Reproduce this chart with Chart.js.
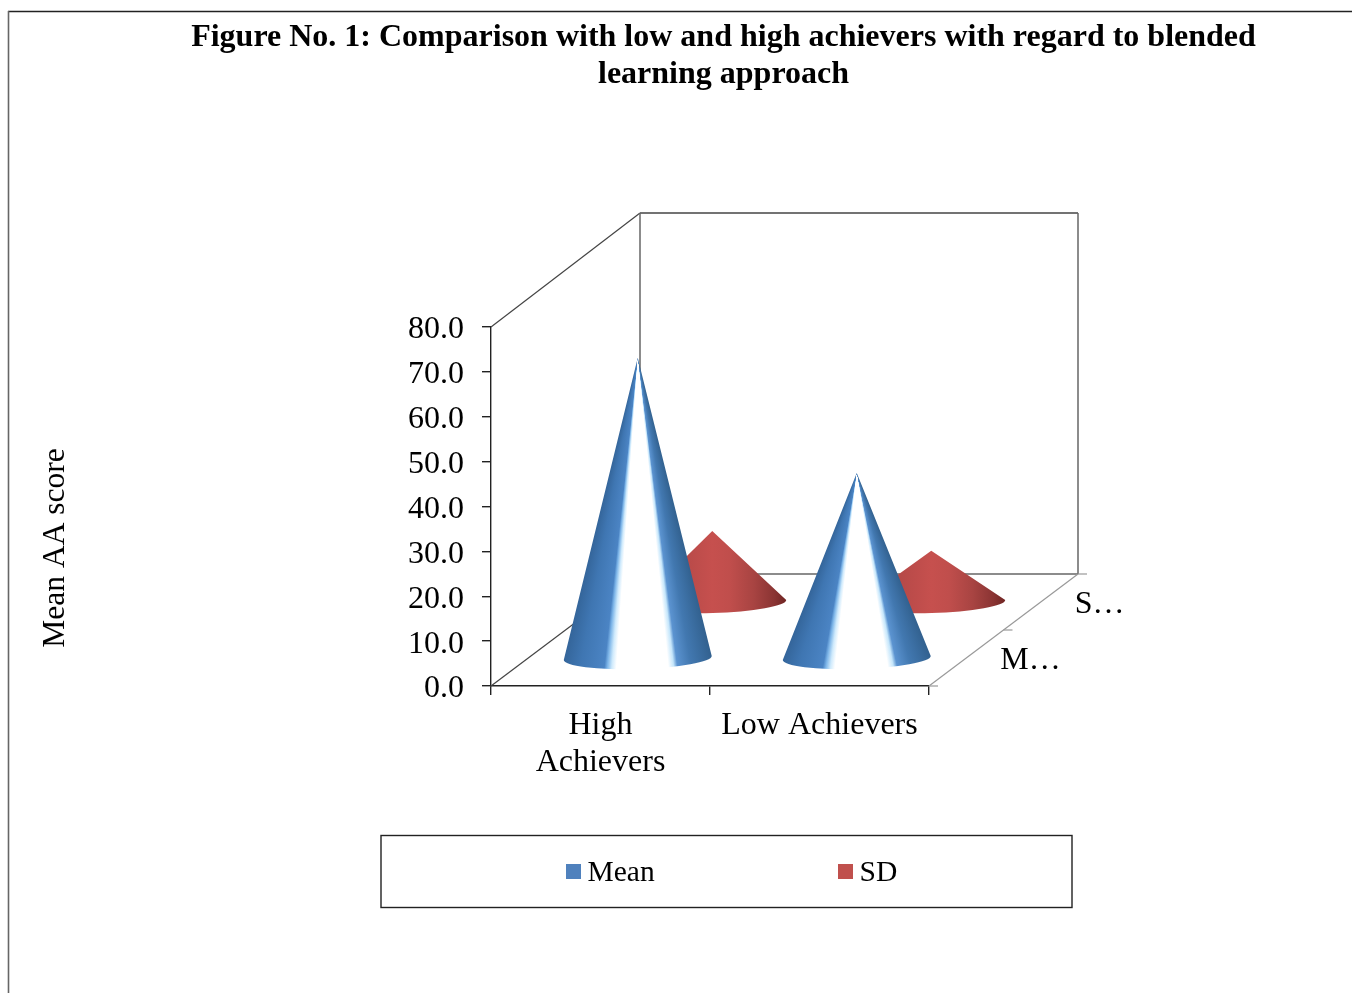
<!DOCTYPE html>
<html>
<head>
<meta charset="utf-8">
<title>Comparison with low and high achievers</title>
<script src="https://cdn.jsdelivr.net/npm/chart.js@4/dist/chart.umd.min.js"></script>
<style>
    html, body { margin: 0; padding: 0; background: #fff; overflow: hidden; }
    canvas { display: block; }
</style>
</head>
<body>
<canvas id="coneChart" width="1352" height="993"></canvas>
<script>
const titleLines = ['Figure No. 1: Comparison with low and high achievers with regard to blended', 'learning approach'];
const categories = [['High', 'Achievers'], 'Low Achievers'];
const seriesNames = ['Mean', 'SD'];
const meanValues = [66.9, 41.2];
const sdValues = [15.8, 11.4];
const depthLabels = ['M…', 'S…'];
const yAxisLabel = 'Mean AA score';

const SERIF = '"Liberation Serif", "Times New Roman", serif';
const COLORS = { Mean: '#4f81bd', SD: '#c0504d' };

// Floor depth as seen on screen, from front edge to back wall
const DEPTH_X = 149;
const DEPTH_Y = -112;
const CONE_RX = 74;
const CONE_RY = 11;
const CONE_TILT = -0.027;

// Shading across the base of a cone, left to right
const blueBands = [
    [0, '#34659a'], [0.12, '#3f76b2'], [0.28, '#4b84c4'], [0.3, '#7db5e8'], [0.33, '#cfeafc'], [0.36, '#ffffff'],
    [0.7, '#ffffff'], [0.735, '#c5e6fb'], [0.76, '#5b93d0'], [0.85, '#4278b0'], [1, '#32618f']
];
const redBands = [
    [0, '#a04040'], [0.5, '#c6504e'], [0.62, '#c04e4c'], [0.78, '#a84442'], [0.92, '#8a3433'], [1, '#702523']
];

function line(ctx, x1, y1, x2, y2, color, width) {
    ctx.strokeStyle = color;
    ctx.lineWidth = width;
    ctx.beginPath();
    ctx.moveTo(x1, y1);
    ctx.lineTo(x2, y2);
    ctx.stroke();
}

function drawWalls(chart) {
    const { ctx, chartArea: a } = chart;
    const backL = a.left + DEPTH_X;
    const backR = a.right + DEPTH_X;
    const backB = a.bottom + DEPTH_Y;
    const backT = a.top + DEPTH_Y - 2;

    line(ctx, a.left, a.top, backL, backT, '#444', 1.2);
    line(ctx, backL, backT, backR, backT, '#444', 1.5);
    line(ctx, backL, backT, backL, backB, '#666', 1.5);
    line(ctx, backR, backT, backR, backB, '#666', 1.5);
    line(ctx, backL, backB, backR, backB, '#666', 1.5);
    line(ctx, a.left, a.bottom, backL, backB, '#444', 1.2);
    line(ctx, a.right, a.bottom, backR, backB, '#999', 1.2);

    // Depth axis ticks and its cut-off labels
    ctx.font = '32px ' + SERIF;
    ctx.fillStyle = '#000';
    ctx.textAlign = 'left';
    ctx.textBaseline = 'middle';
    for (let i = 0; i <= depthLabels.length; i++) {
        const t = i / depthLabels.length;
        const x = a.right + DEPTH_X * t;
        const y = a.bottom + DEPTH_Y * t;
        line(ctx, x, y, x + 9, y, '#999', 1.2);
    }
    depthLabels.forEach((label, i) => {
        const t = (i + 0.5) / depthLabels.length;
        ctx.fillText(label, a.right + DEPTH_X * t + 34, a.bottom + DEPTH_Y * t + 2.5);
    });
}

function drawCone(ctx, cx, cy, apexY, bands, radial) {
    let fill;
    if (radial) {
        // Conic fill centred on the tip, so the bands narrow towards it
        fill = ctx.createConicGradient(0, cx, apexY);
        const stops = bands.map(([f, color]) => {
            const dx = CONE_RX * (2 * f - 1);
            const dy = cy + dx * CONE_TILT - apexY;
            return [Math.atan2(dy, dx) / (Math.PI * 2), color];
        });
        stops.sort((p, q) => p[0] - q[0]).forEach(([t, color]) => fill.addColorStop(t, color));
    } else {
        fill = ctx.createLinearGradient(cx - CONE_RX, 0, cx + CONE_RX, 0);
        bands.forEach(([f, color]) => fill.addColorStop(f, color));
    }

    ctx.fillStyle = fill;
    ctx.beginPath();
    ctx.moveTo(cx, apexY);
    ctx.ellipse(cx, cy, CONE_RX, CONE_RY, CONE_TILT, 0, Math.PI, false);
    ctx.closePath();
    ctx.fill();
}

function drawCones(chart) {
    const { ctx, scales } = chart;
    const count = chart.data.datasets.length;
    // Back row first so the front cones overlap it
    for (let d = count - 1; d >= 0; d--) {
        const t = (d + 0.5) / count;
        const bands = d === 0 ? blueBands : redBands;
        chart.data.datasets[d].data.forEach((value, i) => {
            const cx = scales.x.getPixelForValue(i) + DEPTH_X * t;
            const cy = scales.y.getPixelForValue(0) + DEPTH_Y * t;
            const apexY = scales.y.getPixelForValue(value) + DEPTH_Y * t;
            drawCone(ctx, cx, cy, apexY, bands, d === 0);
        });
    }
}

function drawLegendBox(chart) {
    const { ctx } = chart;
    ctx.strokeStyle = '#222';
    ctx.lineWidth = 1.4;
    ctx.strokeRect(381, 835.5, 691, 72);

    const itemX = [566, 838];
    ctx.font = '29.5px ' + SERIF;
    ctx.textAlign = 'left';
    ctx.textBaseline = 'middle';
    chart.data.datasets.forEach((ds, i) => {
        ctx.fillStyle = ds.backgroundColor;
        ctx.fillRect(itemX[i], 864, 15, 15);
        ctx.fillStyle = '#000';
        ctx.fillText(ds.label, itemX[i] + 21.5, 873);
    });
}

const conePlugin = {
    id: 'cones',
    afterLayout(chart) {
        // Heading sits off-centre on the page
        chart.titleBlock.left = 95;
        chart.titleBlock.right = chart.width;
    },
    beforeDraw(chart) {
        const { ctx, width, height } = chart;
        ctx.save();
        line(ctx, 8, 11.5, width, 11.5, '#222', 1.4);
        line(ctx, 8.5, 11, 8.5, height, '#666', 1.6);
        ctx.restore();
    },
    beforeDatasetsDraw(chart) {
        const { ctx } = chart;
        ctx.save();
        drawWalls(chart);
        drawCones(chart);
        ctx.restore();
        return false;
    },
    afterDraw(chart) {
        const { ctx } = chart;
        ctx.save();
        drawLegendBox(chart);
        ctx.translate(56, 548);
        ctx.rotate(-Math.PI / 2);
        ctx.font = '31.5px ' + SERIF;
        ctx.fillStyle = '#000';
        ctx.textAlign = 'center';
        ctx.textBaseline = 'middle';
        ctx.fillText(yAxisLabel, 0, 0);
        ctx.restore();
    }
};

new Chart(document.getElementById('coneChart'), {
    type: 'bar',
    data: {
        labels: categories,
        datasets: [
            { label: seriesNames[0], data: meanValues, backgroundColor: COLORS.Mean },
            { label: seriesNames[1], data: sdValues, backgroundColor: COLORS.SD }
        ]
    },
    options: {
        responsive: false,
        animation: false,
        layout: { padding: { left: 0, right: 423, top: 0, bottom: 0 } },
        plugins: {
            legend: { display: false },
            tooltip: { enabled: false },
            title: {
                display: true,
                text: titleLines,
                color: '#000',
                font: { family: SERIF, size: 32, weight: 'bold', lineHeight: 1.156 },
                padding: { top: 19, bottom: 234 }
            }
        },
        scales: {
            x: {
                grid: { drawOnChartArea: false, offset: true, tickLength: 9, tickColor: '#222', lineWidth: 1.4 },
                border: { color: '#222', width: 1.4 },
                ticks: {
                    color: '#000',
                    padding: 12,
                    maxRotation: 0,
                    autoSkip: false,
                    font: { family: SERIF, size: 32, lineHeight: 1.156 }
                },
                afterFit(scale) { scale.height = 307; }
            },
            y: {
                min: 0,
                max: 80,
                grid: { drawOnChartArea: false, tickLength: 9, tickColor: '#222', lineWidth: 1.4 },
                border: { color: '#222', width: 1.4 },
                ticks: {
                    color: '#000',
                    padding: 18,
                    stepSize: 10,
                    labelOffset: 3,
                    font: { family: SERIF, size: 32 },
                    callback: value => value.toFixed(1)
                },
                afterFit(scale) { scale.width = 491; }
            }
        }
    },
    plugins: [conePlugin]
});
</script>
</body>
</html>
